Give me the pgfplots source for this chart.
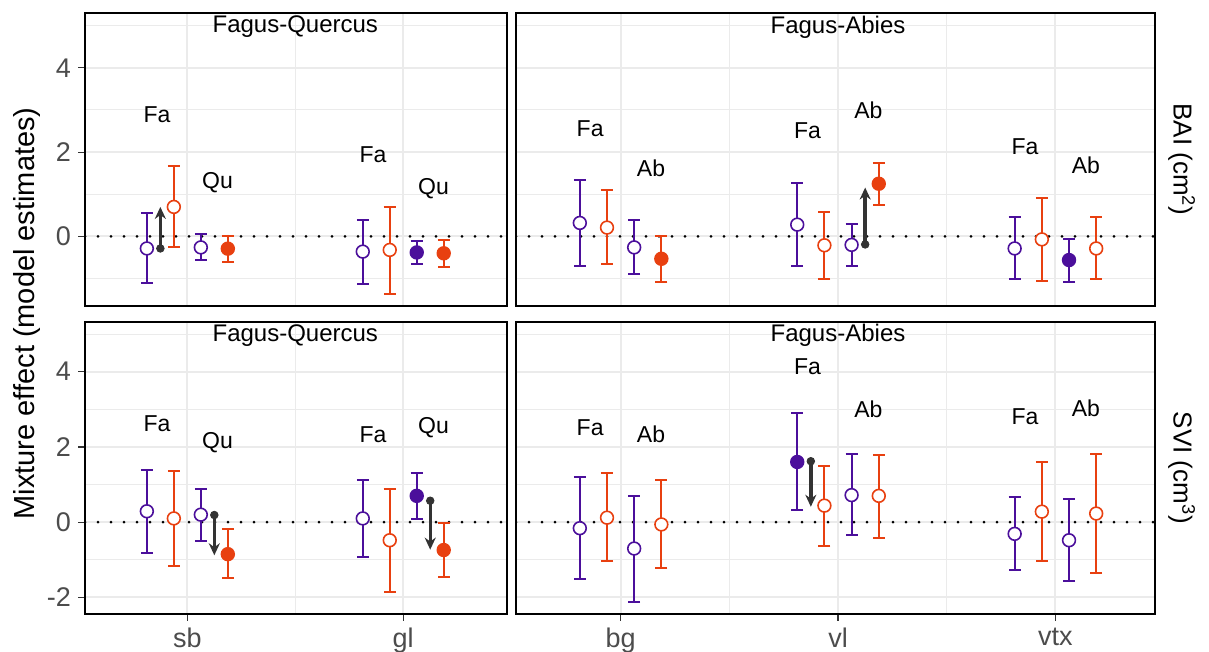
\documentclass[border=0pt]{standalone}
\usepackage{fontspec}
\setmainfont{Liberation Sans}
\usepackage{pgfplots}
\pgfplotsset{compat=1.18}
\usepackage{pgfplotstable}
\usetikzlibrary{arrows.meta}

\definecolor{purp}{RGB}{75,15,155}
\definecolor{oran}{RGB}{232,64,16}
\definecolor{arrc}{RGB}{51,51,51}
\definecolor{grd}{RGB}{235,235,235}

% estimates: x position, mean, lower, upper, style (1 purple open, 2 orange open, 3 purple filled, 4 orange filled)
\pgfplotstableread{
x      y      lo     hi     st
0.8125 -0.285 -1.11  0.56   1
0.9375  0.70  -0.245 1.68   2
1.0625 -0.26  -0.56  0.055  1
1.1875 -0.29  -0.60  0.00   4
1.8125 -0.36  -1.12  0.40   1
1.9375 -0.32  -1.37  0.70   2
2.0625 -0.38  -0.65 -0.10   3
2.1875 -0.40  -0.72 -0.08   4
}\baifq
\pgfplotstableread{
x      y      lo     hi     st
0.8125  0.32  -0.70  1.33   1
0.9375  0.21  -0.66  1.09   2
1.0625 -0.26  -0.90  0.39   1
1.1875 -0.53  -1.09  0.02   4
1.8125  0.28  -0.69  1.26   1
1.9375 -0.21  -1.00  0.59   2
2.0625 -0.20  -0.70  0.29   1
2.1875  1.25   0.735 1.75   4
2.8125 -0.285 -1.02  0.45   1
2.9375 -0.07  -1.06  0.90   2
3.0625 -0.56  -1.075 -0.06  3
3.1875 -0.285 -1.02  0.45   2
}\baifa
\pgfplotstableread{
x      y      lo     hi     st
0.8125  0.29  -0.81  1.39   1
0.9375  0.10  -1.16  1.37   2
1.0625  0.20  -0.49  0.88   1
1.1875 -0.85  -1.49 -0.19   4
1.8125  0.10  -0.92  1.11   1
1.9375 -0.48  -1.86  0.89   2
2.0625  0.70   0.09  1.30   3
2.1875 -0.74  -1.47 -0.01   4
}\svifq
\pgfplotstableread{
x      y      lo     hi     st
0.8125 -0.16  -1.52  1.20   1
0.9375  0.12  -1.04  1.30   2
1.0625 -0.70  -2.11  0.70   1
1.1875 -0.06  -1.23  1.11   2
1.8125  1.60   0.32  2.90   3
1.9375  0.44  -0.63  1.50   2
2.0625  0.72  -0.35  1.80   1
2.1875  0.70  -0.41  1.78   2
2.8125 -0.31  -1.27  0.68   1
2.9375  0.28  -1.02  1.59   2
3.0625 -0.48  -1.55  0.61   1
3.1875  0.23  -1.36  1.81   2
}\svifa

\pgfplotsset{
  panel/.style={
    scale only axis, anchor=south west,
    grid=both,
    major grid style={grd, line width=1pt},
    minor grid style={grd, line width=0.5pt},
    axis line style={black, line width=0.9pt},
    tick align=outside, major tick length=3.5pt, minor tick length=0pt,
    tick style={black!80, line width=0.6pt},
    xtick pos=bottom, ytick pos=left,
    ticklabel style={font=\fontsize{13.5}{15}\selectfont, text=black!70},
    minor ytick={-1,1,3,5},
    unbounded coords=discard,
  },
  toprow/.style={height=146.5pt, ymin=-1.65, ymax=5.30, ytick={0,2,4}, yticklabels={0,2,4},
    xticklabels={}, xtick style={draw=none}},
  botrow/.style={height=146pt, ymin=-2.44, ymax=5.32, ytick={-2,0,2,4}, yticklabels={-2,0,2,4}},
  leftp/.style={width=211.15pt, xmin=0.526, xmax=2.482, xtick={1,2}, minor xtick={1.5}},
  rightp/.style={width=319.5pt, xmin=0.519, xmax=3.458, xtick={1,2,3}, minor xtick={1.5,2.5},
    yticklabels={}, ytick style={draw=none}},
  errs/.style={error bars/y dir=both, error bars/y explicit,
    error bars/error bar style={line width=1pt, solid},
    error bars/error mark options={rotate=90, mark size=3pt, line width=1pt}},
  est/.style={only marks, mark=*, mark size=3.2pt, errs},
  s1/.style={est, color=purp, mark options={fill=white, draw=purp, line width=0.8pt}},
  s2/.style={est, color=oran, mark options={fill=white, draw=oran, line width=0.8pt}},
  s3/.style={est, color=purp, mark options={fill=purp, draw=purp, line width=0.8pt}},
  s4/.style={est, color=oran, mark options={fill=oran, draw=oran, line width=0.8pt}},
  shift/.style={arrc, line width=1.7pt, -{Stealth[length=6pt, width=5.5pt]}},
  shiftdot/.style={arrc, only marks, mark=*, mark size=1.9pt},
  zero/.style={black, line width=1.5pt, dash pattern=on 0pt off 6.5pt, line cap=round},
}
\tikzset{lab/.style={font=\fontsize{11.5}{13}\selectfont},
  strip/.style={font=\fontsize{12}{14}\selectfont}}

\newcommand\est[2]{\addplot[s#1, restrict expr to domain={\thisrow{st}}{#1:#1}]
  table[x=x, y=y, y error plus expr=\thisrow{hi}-\thisrow{y},
        y error minus expr=\thisrow{y}-\thisrow{lo}] {#2};}
\newcommand\estimates[1]{\est{1}{#1}\est{2}{#1}\est{3}{#1}\est{4}{#1}}

\begin{document}
\begin{tikzpicture}
\path[use as bounding box] (0,0) rectangle (604.5pt,326pt);

% BAI, Fagus-Quercus
\begin{axis}[panel, toprow, leftp, at={(42.5pt,173pt)}]
\addplot[zero] coordinates {(0.526,0) (2.482,0)};
\addplot[shift] coordinates {(0.875,-0.285) (0.875,0.70)};
\addplot[shiftdot] coordinates {(0.875,-0.285)};
\estimates{\baifq}
\node[strip] at (axis cs:1.5,4.97) {Fagus-Quercus};
\node[lab] at (axis cs:0.86,2.88) {Fa};
\node[lab] at (axis cs:1.14,1.27) {Qu};
\node[lab] at (axis cs:1.86,1.93) {Fa};
\node[lab] at (axis cs:2.14,1.14) {Qu};
\end{axis}

% BAI, Fagus-Abies
\begin{axis}[panel, toprow, rightp, at={(258pt,173pt)}]
\addplot[zero] coordinates {(0.519,0) (3.458,0)};
\addplot[shift] coordinates {(2.125,-0.19) (2.125,1.16)};
\addplot[shiftdot] coordinates {(2.125,-0.19)};
\estimates{\baifa}
\node[strip] at (axis cs:2,4.97) {Fagus-Abies};
\node[lab] at (axis cs:0.86,2.56) {Fa};
\node[lab] at (axis cs:1.14,1.61) {Ab};
\node[lab] at (axis cs:1.86,2.50) {Fa};
\node[lab] at (axis cs:2.14,3.00) {Ab};
\node[lab] at (axis cs:2.86,2.14) {Fa};
\node[lab] at (axis cs:3.14,1.68) {Ab};
\end{axis}

% SVI, Fagus-Quercus
\begin{axis}[panel, botrow, leftp, at={(42.5pt,19pt)}, xticklabels={sb,gl}]
\addplot[zero] coordinates {(0.526,0) (2.482,0)};
\addplot[shift] coordinates {(1.125,0.19) (1.125,-0.88)};
\addplot[shiftdot] coordinates {(1.125,0.19)};
\addplot[shift] coordinates {(2.125,0.57) (2.125,-0.73)};
\addplot[shiftdot] coordinates {(2.125,0.57)};
\estimates{\svifq}
\node[strip] at (axis cs:1.5,4.97) {Fagus-Quercus};
\node[lab] at (axis cs:0.86,2.61) {Fa};
\node[lab] at (axis cs:1.14,2.11) {Qu};
\node[lab] at (axis cs:1.86,2.33) {Fa};
\node[lab] at (axis cs:2.14,2.52) {Qu};
\end{axis}

% SVI, Fagus-Abies
\begin{axis}[panel, botrow, rightp, at={(258pt,19pt)}, xticklabels={bg,vl,vtx}]
\addplot[zero] coordinates {(0.519,0) (3.458,0)};
\addplot[shift] coordinates {(1.875,1.62) (1.875,0.41)};
\addplot[shiftdot] coordinates {(1.875,1.62)};
\estimates{\svifa}
\node[strip] at (axis cs:2,4.97) {Fagus-Abies};
\node[lab] at (axis cs:0.86,2.51) {Fa};
\node[lab] at (axis cs:1.14,2.33) {Ab};
\node[lab] at (axis cs:1.86,4.13) {Fa};
\node[lab] at (axis cs:2.14,3.00) {Ab};
\node[lab] at (axis cs:2.86,2.81) {Fa};
\node[lab] at (axis cs:3.14,3.03) {Ab};
\end{axis}

\node[rotate=90, font=\fontsize{14.5}{17}\selectfont] at (13.3pt,169.3pt) {Mixture effect (model estimates)};
\node[rotate=-90, font=\fontsize{13}{15}\selectfont] at (590.8pt,246.25pt) {BAI (cm\textsuperscript{2})};
\node[rotate=-90, font=\fontsize{13}{15}\selectfont] at (590.8pt,92pt) {SVI (cm\textsuperscript{3})};
\end{tikzpicture}
\end{document}
